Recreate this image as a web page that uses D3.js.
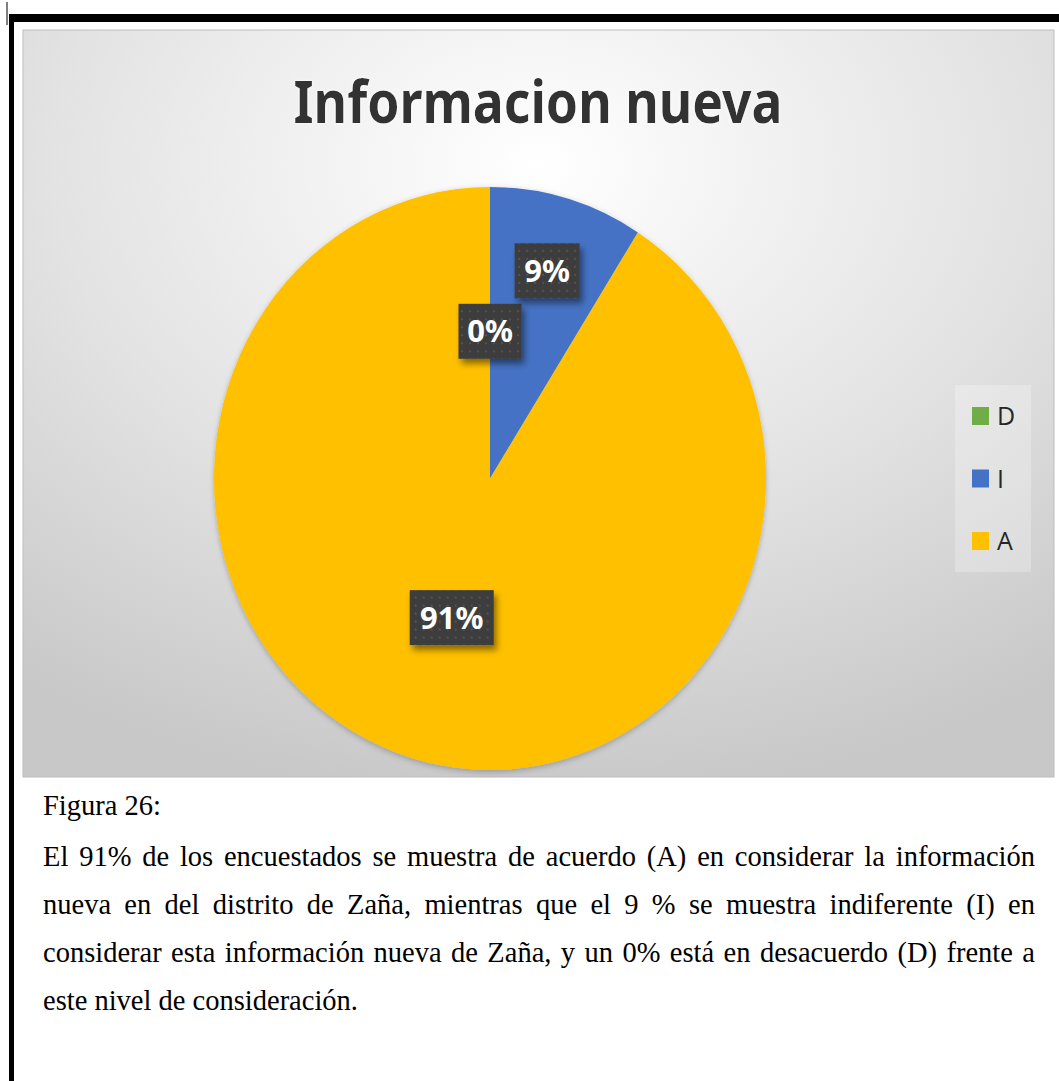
<!DOCTYPE html>
<html>
<head>
<meta charset="utf-8">
<script src="https://cdn.jsdelivr.net/npm/d3@7"></script>
<style>
  body { margin: 0; background: #fff; }
  svg { display: block; }
</style>
</head>
<body>
<svg id="page" width="1059" height="1081"></svg>
<script>
// data
const categories = ["D", "I", "A"];
const percents = [0, 9, 91];
const sliceColors = ["#70AD47", "#4472C4", "#FFC000"];
const chartTitle = "Informacion nueva";
const captionTitle = "Figura 26:";
const captionLines = [
  "El 91% de los encuestados se muestra de acuerdo (A) en considerar la información",
  "nueva en del distrito de Zaña, mientras que el 9 % se muestra indiferente (I) en",
  "considerar esta información nueva de Zaña, y un 0% está en desacuerdo (D) frente a",
  "este nivel de consideración."
];

const drawPage = (svg_name) => {
  let svg = d3.select(svg_name);
  let defs = svg.append("defs");

  let bg = defs.append("radialGradient").attr("id", "bgGrad")
    .attr("cx", "50%").attr("cy", "18%").attr("r", "85%");
  bg.append("stop").attr("offset", "0%").attr("stop-color", "#ffffff");
  bg.append("stop").attr("offset", "55%").attr("stop-color", "#e3e3e3");
  bg.append("stop").attr("offset", "100%").attr("stop-color", "#c8c8c8");

  let pat = defs.append("pattern").attr("id", "dots")
    .attr("width", 8).attr("height", 8).attr("patternUnits", "userSpaceOnUse");
  pat.append("rect").attr("width", 8).attr("height", 8).attr("fill", "#3d3d3d");
  pat.append("circle").attr("cx", 4).attr("cy", 4).attr("r", 1).attr("fill", "#595959");

  let sh = defs.append("filter").attr("id", "boxShadow")
    .attr("x", "-30%").attr("y", "-30%").attr("width", "170%").attr("height", "180%");
  sh.append("feDropShadow").attr("dx", 3).attr("dy", 5).attr("stdDeviation", 3)
    .attr("flood-color", "#000").attr("flood-opacity", 0.45);

  let pieSh = defs.append("filter").attr("id", "pieShadow")
    .attr("x", "-10%").attr("y", "-10%").attr("width", "120%").attr("height", "120%");
  pieSh.append("feDropShadow").attr("dx", 0).attr("dy", 2).attr("stdDeviation", 3)
    .attr("flood-color", "#000").attr("flood-opacity", 0.25);

  let titleSh = defs.append("filter").attr("id", "titleGlow")
    .attr("x", "-5%").attr("y", "-20%").attr("width", "110%").attr("height", "140%");
  titleSh.append("feDropShadow").attr("dx", 0).attr("dy", 0).attr("stdDeviation", 1.5)
    .attr("flood-color", "#fff").attr("flood-opacity", 1);

  // page frame
  svg.append("line").attr("x1", 7).attr("x2", 7).attr("y1", 2).attr("y2", 25)
    .attr("stroke", "#000").attr("stroke-width", 1);
  svg.append("rect").attr("x", 9).attr("y", 14).attr("width", 1050).attr("height", 8).attr("fill", "#000");
  svg.append("rect").attr("x", 9).attr("y", 14).attr("width", 5).attr("height", 1067).attr("fill", "#000");

  // chart area
  let area = {x: 23, y: 30, w: 1031, h: 747};
  svg.append("rect").attr("x", area.x).attr("y", area.y).attr("width", area.w).attr("height", area.h)
    .attr("fill", "url(#bgGrad)").attr("stroke", "#bdbdbd").attr("stroke-width", 1);

  svg.append("text")
    .attr("x", 538).attr("y", 123)
    .attr("text-anchor", "middle")
    .attr("font-family", "'Noto Sans', 'Open Sans', sans-serif")
    .attr("font-weight", "bold").attr("font-size", 60)
    .attr("fill", "#333333")
    .attr("filter", "url(#titleGlow)")
    .attr("textLength", 489).attr("lengthAdjust", "spacingAndGlyphs")
    .text(chartTitle);

  // pie (Excel picture is stretched, so an ellipse)
  let cx = 490, cy = 478.5, rx = 276, ry = 291.5;
  let sx = rx / ry;
  let data = categories.map((c, i) => ({cat: c, value: percents[i], color: sliceColors[i]}));
  let pie = d3.pie().sort(null).value(d => d.value);
  let arcs = pie(data);
  let arc = d3.arc().innerRadius(0).outerRadius(ry);

  let g = svg.append("g").attr("transform", `translate(${cx},${cy}) scale(${sx},1)`)
    .attr("filter", "url(#pieShadow)");
  g.selectAll("path").data(arcs).enter().append("path")
    .attr("d", arc)
    .attr("fill", d => d.data.color);

  // data labels: Excel "best fit" puts them at different distances
  let labelRadius = {D: 0.505, I: 0.742, A: 0.497};
  let labelWidth = {D: 63, I: 65, A: 84};
  arcs.forEach(a => {
    let r = labelRadius[a.data.cat] * ry;
    let c = d3.arc().innerRadius(r).outerRadius(r).centroid(a);
    let lx = cx + c[0] * sx, ly = cy + c[1];
    let w = labelWidth[a.data.cat], h = 55;
    let lg = svg.append("g").attr("transform", `translate(${lx},${ly})`);
    lg.append("rect").attr("x", -w / 2).attr("y", -h / 2).attr("width", w).attr("height", h)
      .attr("fill", "url(#dots)").attr("filter", "url(#boxShadow)");
    lg.append("text").attr("x", 0).attr("y", 11)
      .attr("text-anchor", "middle")
      .attr("font-family", "'Noto Sans', 'Open Sans', sans-serif")
      .attr("font-weight", "bold").attr("font-size", 31)
      .attr("fill", "#ffffff")
      .text(a.data.value + "%");
  });

  // legend
  svg.append("rect").attr("x", 955).attr("y", 385).attr("width", 76).attr("height", 187)
    .attr("fill", "#ffffff").attr("fill-opacity", 0.25);
  let legendY = d3.scalePoint().domain(categories).range([416, 541]);
  let lgItems = svg.append("g").selectAll("g").data(data).enter().append("g")
    .attr("transform", d => `translate(972,${legendY(d.cat)})`);
  lgItems.append("rect").attr("x", 0).attr("y", -9).attr("width", 17).attr("height", 18)
    .attr("fill", d => d.color);
  lgItems.append("text").attr("x", 25).attr("y", 9)
    .attr("font-family", "'Open Sans', 'Noto Sans', sans-serif")
    .attr("font-size", 25).attr("fill", "#262626")
    .text(d => d.cat);

  // caption below the chart
  let serif = "'Liberation Serif', 'Times New Roman', serif";
  let capSize = 28.5;
  let left = 43, right = 1035;
  svg.append("text").attr("x", left).attr("y", 815)
    .attr("font-family", serif).attr("font-size", capSize).attr("fill", "#000")
    .text(captionTitle);
  let lineY = d3.scaleLinear().domain([0, captionLines.length - 1]).range([866, 1010]);
  captionLines.forEach((line, i) => {
    let t = svg.append("text").attr("x", left).attr("y", lineY(i))
      .attr("font-family", serif).attr("font-size", capSize).attr("fill", "#000")
      .attr("xml:space", "preserve")
      .text(line);
    if (i < captionLines.length - 1) {
      let natural = t.node().getComputedTextLength();
      let spaces = line.split(" ").length - 1;
      let ws = (right - left - natural) / spaces;
      if (ws >= 0) {
        t.attr("word-spacing", ws);
      } else {
        t.attr("textLength", right - left).attr("lengthAdjust", "spacingAndGlyphs");
      }
    }
  });
}

drawPage("#page");
</script>
</body>
</html>
